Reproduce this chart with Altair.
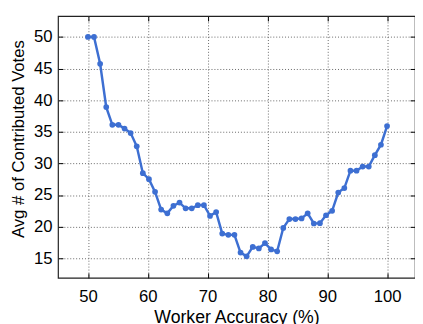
import altair as alt
import pandas as pd

# Worker accuracy (%) (50 evenly placed samples)
accuracy = [50.0, 51.02, 52.04, 53.06, 54.08, 55.1, 56.12, 57.14, 58.16, 59.18,
            60.2, 61.22, 62.24, 63.27, 64.29, 65.31, 66.33, 67.35, 68.37, 69.39,
            70.41, 71.43, 72.45, 73.47, 74.49, 75.51, 76.53, 77.55, 78.57, 79.59,
            80.61, 81.63, 82.65, 83.67, 84.69, 85.71, 86.73, 87.76, 88.78, 89.8,
            90.82, 91.84, 92.86, 93.88, 94.9, 95.92, 96.94, 97.96, 98.98, 100.0]
votes = [50.0, 50.0, 45.75, 38.9, 36.1, 36.1, 35.5, 34.8, 32.7, 28.45,
         27.5, 25.5, 22.7, 22.1, 23.3, 23.8, 22.9, 22.9, 23.4, 23.4,
         21.7, 22.3, 18.9, 18.7, 18.7, 15.9, 15.3, 16.8, 16.55, 17.4,
         16.4, 16.1, 19.8, 21.2, 21.2, 21.3, 22.1, 20.5, 20.55, 21.8,
         22.5, 25.4, 26.1, 28.85, 28.85, 29.5, 29.5, 31.3, 32.95, 35.9]
x_ticks = [50, 60, 70, 80, 90, 100]
y_ticks = [15, 20, 25, 30, 35, 40, 45, 50]

df = pd.DataFrame({"acc": accuracy, "votes": votes})

FONT = "Liberation Sans"
BLUE = "#3D6FD2"
xs = alt.Scale(domain=[45, 104.67], nice=False, zero=False)
ys = alt.Scale(domain=[11.9, 53.3], nice=False, zero=False)

base = alt.Chart(df)

main_x = alt.Axis(values=x_ticks, title="Worker Accuracy (%)", ticks=False, domain=False,
                  grid=True, gridDash=[1, 2], gridColor="#666", gridWidth=1,
                  labelFont=FONT, labelFontSize=17, labelColor="#000", labelPadding=11,
                  titleFont=FONT, titleFontSize=18, titleFontWeight="normal",
                  titleColor="#000", titlePadding=4, orient="bottom")
main_y = alt.Axis(values=y_ticks, title="Avg # of Contributed Votes", ticks=False, domain=False,
                  grid=True, gridDash=[1, 2], gridColor="#666", gridWidth=1,
                  labelFont=FONT, labelFontSize=17, labelColor="#000", labelPadding=6,
                  titleFont=FONT, titleFontSize=17, titleFontWeight="normal",
                  titleColor="#000", titlePadding=6, titleY=125, orient="left")

line = base.mark_line(color=BLUE, strokeWidth=2.5).encode(
    x=alt.X("acc:Q", scale=xs, axis=main_x),
    y=alt.Y("votes:Q", scale=ys, axis=main_y),
)
pts = base.mark_circle(color=BLUE, size=34, opacity=1).encode(
    x=alt.X("acc:Q", scale=xs, axis=None),
    y=alt.Y("votes:Q", scale=ys, axis=None),
)


def tick_axis(vals, orient):
    return alt.Axis(values=vals, orient=orient, offset=-5, tickSize=5, tickColor="#000",
                    tickWidth=1, labels=False, domain=False, grid=False, title=None)


ticks1 = base.mark_point(opacity=0).encode(
    x=alt.X("acc:Q", scale=xs, axis=tick_axis(x_ticks, "bottom")),
    y=alt.Y("votes:Q", scale=ys, axis=tick_axis(y_ticks, "left")),
)
ticks2 = base.mark_point(opacity=0).encode(
    x=alt.X("acc:Q", scale=xs, axis=tick_axis(x_ticks, "top")),
    y=alt.Y("votes:Q", scale=ys, axis=tick_axis(y_ticks, "right")),
)

chart = alt.layer(line, pts, ticks1, ticks2).resolve_axis(
    x="independent", y="independent"
).properties(
    width=364, height=267,
    autosize=alt.AutoSizeParams(type="none"),
    padding={"left": 51, "top": 5, "right": 0, "bottom": 52},
    background="white",
).configure_view(stroke="#222", strokeWidth=1.2)

chart.save("out.html", embed_options={"renderer": "svg", "actions": False})
